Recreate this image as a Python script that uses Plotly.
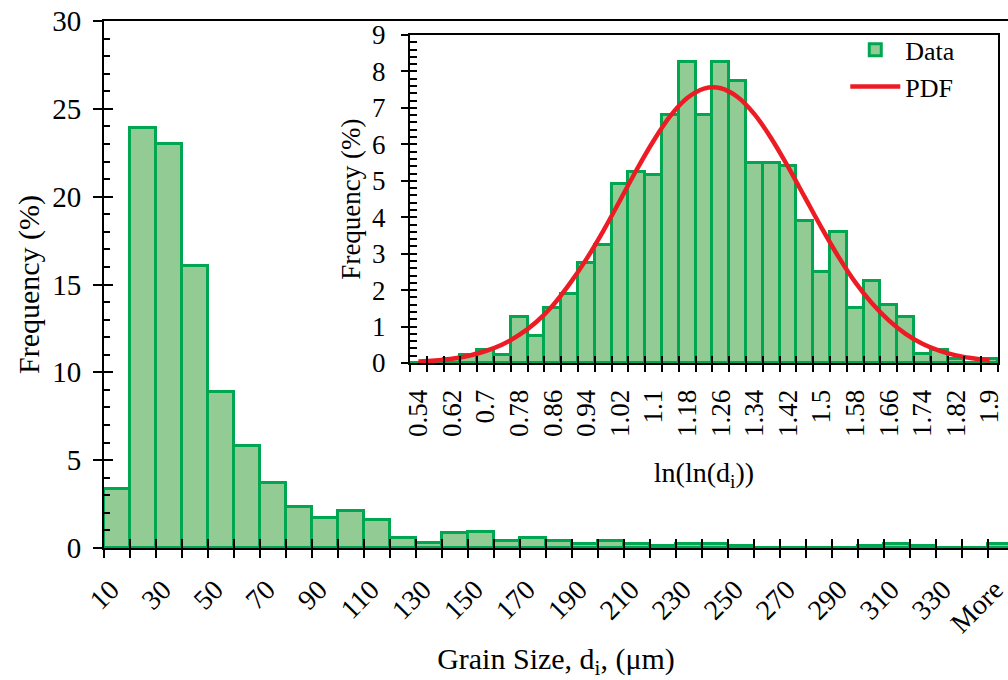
import plotly.graph_objects as go

# ---------------- data ----------------
main_labels = ["10", "20", "30", "40", "50", "60", "70", "80", "90", "100",
               "110", "120", "130", "140", "150", "160", "170", "180", "190", "200",
               "210", "220", "230", "240", "250", "260", "270", "280", "290", "300",
               "310", "320", "330", "340", "More"]
main_freq = [3.35, 23.9, 23.0, 16.05, 8.9, 5.8, 3.7, 2.35, 1.7, 2.1,
             1.58, 0.55, 0.28, 0.85, 0.93, 0.4, 0.55, 0.42, 0.2, 0.42,
             0.2, 0.1, 0.2, 0.2, 0.1, 0, 0, 0, 0, 0.1,
             0.2, 0.1, 0, 0, 0.2]

inset_labels = ["0.54", "0.58", "0.62", "0.66", "0.7", "0.74", "0.78", "0.82", "0.86", "0.9",
                "0.94", "0.98", "1.02", "1.06", "1.1", "1.14", "1.18", "1.22", "1.26", "1.3",
                "1.34", "1.38", "1.42", "1.46", "1.5", "1.54", "1.58", "1.62", "1.66", "1.7",
                "1.74", "1.78", "1.82", "1.86", "1.9"]
inset_freq = [0, 0, 0.11, 0.23, 0.35, 0.23, 1.25, 0.75, 1.5, 1.9,
              2.75, 3.25, 4.9, 5.25, 5.15, 6.8, 8.25, 6.8, 8.25, 7.75,
              5.5, 5.5, 5.4, 3.9, 2.5, 3.6, 1.5, 2.25, 1.6, 1.25,
              0.25, 0.35, 0.11, 0, 0.11]
pdf_vals = [0.04, 0.07, 0.12, 0.20, 0.33, 0.51, 0.77, 1.12, 1.58, 2.17,
            2.85, 3.62, 4.46, 5.31, 6.10, 6.78, 7.27, 7.53, 7.54, 7.30,
            6.83, 6.17, 5.39, 4.55, 3.71, 2.92, 2.22, 1.64, 1.17, 0.80,
            0.53, 0.34, 0.21, 0.13, 0.07]

# ---------------- style ----------------
FILL = "rgb(146,204,148)"
EDGE = "rgb(0,166,80)"
RED = "rgb(237,28,36)"
FONT = "Liberation Serif"

main_idx = list(range(len(main_labels)))
inset_idx = list(range(len(inset_labels)))
main_bounds = [i - 0.5 for i in range(len(main_labels) + 1)]
inset_bounds = [i - 0.5 for i in range(len(inset_labels) + 1)]

fig = go.Figure()
fig.add_trace(go.Bar(x=main_idx, y=main_freq, xaxis="x", yaxis="y", width=1,
                     marker=dict(color=FILL, line=dict(color=EDGE, width=3)),
                     showlegend=False))
fig.add_trace(go.Bar(x=inset_idx, y=inset_freq, xaxis="x2", yaxis="y2", width=1,
                     name="Data",
                     marker=dict(color=FILL, line=dict(color=EDGE, width=3))))
fig.add_trace(go.Scatter(x=inset_idx, y=pdf_vals, xaxis="x2", yaxis="y2",
                         mode="lines", name="PDF",
                         line=dict(color=RED, width=4.5, shape="spline")))

# empty helper traces so the tick-only overlay axes get drawn
for xa, ya in [("x3", "y"), ("x4", "y"), ("x", "y3"),
               ("x5", "y2"), ("x6", "y2"), ("x2", "y4")]:
    fig.add_trace(go.Scatter(x=[None], y=[None], xaxis=xa, yaxis=ya, mode="markers",
                             showlegend=False, hoverinfo="skip"))

main_range = [-0.5, 34.27]
inset_range = [-0.5, 34.5]
ax_common = dict(showgrid=False, zeroline=False, automargin=False)
tick_only = dict(showgrid=False, zeroline=False, showline=False, automargin=False,
                 showticklabels=False, tickcolor="black", tickwidth=2)

fig.update_layout(
    width=1008, height=680,
    margin=dict(l=104, r=0, t=21, b=132),
    paper_bgcolor="white", plot_bgcolor="white",
    font=dict(family=FONT, color="black", size=26),
    bargap=0,
    showlegend=True,
    legend=dict(x=0.82, y=0.99, xanchor="left", yanchor="top",
                bgcolor="rgba(0,0,0,0)", font=dict(size=26), tracegroupgap=0,
                itemwidth=50),
    xaxis=dict(domain=[0, 1], anchor="y", range=main_range,
               tickmode="array", tickvals=main_idx[0::2], ticktext=main_labels[0::2],
               tickangle=-45, ticks="", tickfont=dict(size=28),
               ticklabelstandoff=12, ticklabelshift=-6, ticklabeloverflow="allow",
               showline=True, linecolor="black", linewidth=2, mirror=True,
               title=dict(text="Grain Size, d<sub>i</sub>, (μm)", font=dict(size=30),
                          standoff=22),
               **ax_common),
    xaxis3=dict(overlaying="x", anchor="y", range=main_range,
                tickmode="array", tickvals=main_bounds, ticks="outside", ticklen=9,
                **tick_only),
    xaxis4=dict(overlaying="x", anchor="y", range=main_range,
                tickmode="array", tickvals=main_bounds, ticks="inside", ticklen=9,
                **tick_only),
    yaxis=dict(domain=[0, 1], anchor="x", range=[0, 30],
               tickmode="linear", tick0=0, dtick=5, ticks="outside", ticklen=9,
               tickwidth=2, tickcolor="black", tickfont=dict(size=29),
               ticklabelstandoff=6,
               showline=True, linecolor="black", linewidth=2,
               title=dict(text="Frequency (%)", font=dict(size=30), standoff=4),
               **ax_common),
    yaxis3=dict(overlaying="y", anchor="x", range=[0, 30],
                tickmode="linear", tick0=0, dtick=5, ticks="inside", ticklen=9,
                minor=dict(dtick=1, tick0=0, ticks="inside", ticklen=6,
                           tickcolor="black", tickwidth=1.5),
                **tick_only),
    xaxis2=dict(domain=[0.3385, 0.9889], anchor="y2", range=inset_range,
                tickmode="array", tickvals=inset_idx[0::2], ticktext=inset_labels[0::2],
                tickangle=-90, ticks="", tickfont=dict(size=27),
                ticklabelstandoff=14,
                showline=True, linecolor="black", linewidth=2, mirror=True,
                title=dict(text="ln(ln(d<sub>i</sub>))", font=dict(size=28), standoff=26),
                **ax_common),
    xaxis5=dict(overlaying="x2", anchor="y2", range=inset_range,
                tickmode="array", tickvals=inset_bounds, ticks="outside", ticklen=8,
                **tick_only),
    xaxis6=dict(overlaying="x2", anchor="y2", range=inset_range,
                tickmode="array", tickvals=inset_bounds, ticks="inside", ticklen=7,
                **tick_only),
    yaxis2=dict(domain=[0.3510, 0.9734], anchor="x2", range=[0, 9],
                tickmode="linear", tick0=0, dtick=1, ticks="outside", ticklen=7,
                tickwidth=2, tickcolor="black", tickfont=dict(size=27),
                ticklabelstandoff=10,
                showline=True, linecolor="black", linewidth=2, mirror=True,
                title=dict(text="Frequency (%)", font=dict(size=27), standoff=4),
                **ax_common),
    yaxis4=dict(overlaying="y2", anchor="x2", range=[0, 9],
                tickmode="linear", tick0=0, dtick=0.2, ticks="inside", ticklen=7,
                **tick_only),
)

fig.write_html("out.html")
